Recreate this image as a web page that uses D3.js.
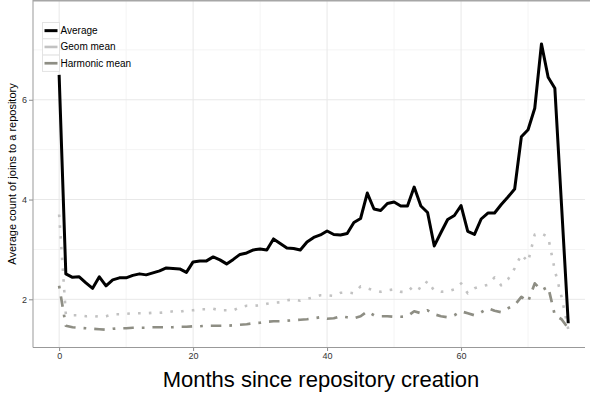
<!DOCTYPE html>
<html>
<head>
<meta charset="utf-8">
<script src="https://cdn.jsdelivr.net/npm/d3@7/dist/d3.min.js"></script>
<style>
  html, body { margin: 0; padding: 0; background: #fff; }
  svg { display: block; }
</style>
</head>
<body>
<svg id="chart" width="590" height="398"></svg>
<script>
// Monthly join counts per repository, by repository age in months
const months = d3.range(0, 77);

const average = [
  6.50, 2.51, 2.44, 2.45, 2.33, 2.22, 2.45, 2.27, 2.39, 2.43,
  2.43, 2.48, 2.51, 2.49, 2.53, 2.57, 2.63, 2.62, 2.61, 2.54,
  2.75, 2.77, 2.77, 2.85, 2.79, 2.71, 2.80, 2.90, 2.93, 2.99,
  3.01, 2.99, 3.21, 3.12, 3.03, 3.02, 2.99, 3.15, 3.24, 3.29,
  3.37, 3.30, 3.29, 3.32, 3.54, 3.62, 4.13, 3.81, 3.78, 3.92,
  3.95, 3.87, 3.87, 4.25, 3.87, 3.74, 3.07, 3.34, 3.60, 3.68,
  3.88, 3.36, 3.30, 3.61, 3.73, 3.73, 3.90, 4.05, 4.21, 5.26,
  5.40, 5.83, 7.12, 6.45, 6.23, 3.88, 1.52
];

const geomMean = [
  3.70, 1.70, 1.68, 1.68, 1.66, 1.67, 1.65, 1.66, 1.70, 1.70,
  1.71, 1.72, 1.72, 1.72, 1.73, 1.73, 1.74, 1.76, 1.75, 1.78,
  1.78, 1.80, 1.80, 1.81, 1.78, 1.78, 1.78, 1.84, 1.87, 1.87,
  1.88, 1.91, 1.93, 1.94, 1.98, 2.00, 1.97, 2.01, 2.04, 2.08,
  2.08, 2.07, 2.13, 2.14, 2.12, 2.26, 2.22, 2.18, 2.15, 2.18,
  2.20, 2.15, 2.15, 2.28, 2.20, 2.37, 2.17, 2.15, 2.16, 2.20,
  2.32, 2.12, 2.22, 2.26, 2.29, 2.44, 2.28, 2.40, 2.62, 2.90,
  2.75, 3.30, 3.32, 3.25, 2.58, 2.05, 1.40
];

const harmonicMean = [
  2.27, 1.47, 1.44, 1.43, 1.42, 1.41, 1.40, 1.39, 1.41, 1.42,
  1.42, 1.43, 1.43, 1.43, 1.44, 1.44, 1.44, 1.44, 1.45, 1.45,
  1.46, 1.46, 1.47, 1.47, 1.47, 1.47, 1.48, 1.49, 1.50, 1.52,
  1.53, 1.55, 1.56, 1.56, 1.57, 1.58, 1.59, 1.60, 1.62, 1.64,
  1.61, 1.62, 1.66, 1.64, 1.62, 1.66, 1.76, 1.68, 1.66, 1.66,
  1.65, 1.65, 1.66, 1.76, 1.72, 1.78, 1.70, 1.66, 1.64, 1.68,
  1.76, 1.72, 1.68, 1.74, 1.82, 1.77, 1.74, 1.82, 1.88, 2.05,
  1.95, 2.32, 2.18, 2.25, 1.68, 1.60, 1.42
];

const seriesNames = ["Average", "Geom mean", "Harmonic mean"];
const xTicks = [0, 20, 40, 60];
const xMinor = [10, 30, 50, 70];
const yTicks = [2, 4, 6];
const yMinor = [3, 5, 7];

const svg = d3.select("#chart");
const panel = { left: 33, right: 585, top: 1, bottom: 347 };

const x = d3.scaleLinear().domain([-3.9, 78.5]).range([panel.left, panel.right]);
const y = d3.scaleLinear().domain([1.044, 7.98]).range([panel.bottom, panel.top]);

const styles = {
  "Average":       { color: "#000000", width: 3,   dash: null },
  "Geom mean":     { color: "#c2c2c2", width: 2.6, dash: "2.6,8.2" },
  "Harmonic mean": { color: "#8e8e84", width: 2.7, dash: "2.7,8,10.5,8" }
};

// grid
const grid = svg.append("g");
xMinor.forEach(v => grid.append("line")
  .attr("x1", x(v)).attr("x2", x(v)).attr("y1", panel.top).attr("y2", panel.bottom)
  .attr("stroke", "#f4f4f4").attr("stroke-width", 1));
yMinor.forEach(v => grid.append("line")
  .attr("x1", panel.left).attr("x2", panel.right).attr("y1", y(v)).attr("y2", y(v))
  .attr("stroke", "#f4f4f4").attr("stroke-width", 1));
xTicks.forEach(v => grid.append("line")
  .attr("x1", x(v)).attr("x2", x(v)).attr("y1", panel.top).attr("y2", panel.bottom)
  .attr("stroke", "#e8e8e8").attr("stroke-width", 1));
yTicks.forEach(v => grid.append("line")
  .attr("x1", panel.left).attr("x2", panel.right).attr("y1", y(v)).attr("y2", y(v))
  .attr("stroke", "#e8e8e8").attr("stroke-width", 1));

// series lines
const series = [
  { name: "Average", values: average },
  { name: "Geom mean", values: geomMean },
  { name: "Harmonic mean", values: harmonicMean }
];
const line = d3.line().x(d => x(d[0])).y(d => y(d[1]));

series.slice().reverse().forEach(s => {
  const st = styles[s.name];
  svg.append("path")
    .datum(months.map((m, i) => [m, s.values[i]]))
    .attr("d", line)
    .attr("fill", "none")
    .attr("stroke", st.color)
    .attr("stroke-width", st.width)
    .attr("stroke-linejoin", "round")
    .attr("stroke-dasharray", st.dash);
});

// axes
const xAxis = d3.axisBottom(x).tickValues(xTicks).tickSize(4).tickPadding(2).tickFormat(d3.format("d"));
const yAxis = d3.axisLeft(y).tickValues(yTicks).tickSize(4).tickPadding(2).tickFormat(d3.format("d"));

const gx = svg.append("g").attr("transform", `translate(0,${panel.bottom})`).call(xAxis);
const gy = svg.append("g").attr("transform", `translate(${panel.left},0)`).call(yAxis);
[gx, gy].forEach(g => {
  g.select(".domain").remove();
  g.selectAll(".tick line").attr("stroke", "#8a8a8a");
  g.selectAll(".tick text").attr("fill", "#333").style("font", "9px 'Liberation Sans', Arial, sans-serif");
});

// axis lines and top frame
svg.append("line").attr("x1", panel.left).attr("x2", panel.left).attr("y1", 0).attr("y2", panel.bottom + 0.5)
  .attr("stroke", "#999").attr("stroke-width", 1);
svg.append("line").attr("x1", panel.left).attr("x2", panel.right).attr("y1", panel.bottom + 0.5).attr("y2", panel.bottom + 0.5)
  .attr("stroke", "#999").attr("stroke-width", 1);
svg.append("line").attr("x1", panel.left).attr("x2", 590).attr("y1", 0.75).attr("y2", 0.75)
  .attr("stroke", "#a6a6a6").attr("stroke-width", 1.5);

// axis titles
svg.append("text")
  .attr("x", 321).attr("y", 387)
  .attr("text-anchor", "middle")
  .style("font", "22px 'Liberation Sans', Arial, sans-serif")
  .attr("fill", "#000")
  .text("Months since repository creation");

svg.append("text")
  .attr("transform", `translate(16,${(panel.top + panel.bottom) / 2}) rotate(-90)`)
  .attr("text-anchor", "middle")
  .style("font", "11px 'Liberation Sans', Arial, sans-serif")
  .attr("fill", "#000")
  .text("Average count of joins to a repository");

// legend
const legend = svg.append("g").attr("transform", "translate(42,22)");
const keyH = 16.3, keyW = 17;
seriesNames.forEach((name, i) => {
  const st = styles[name];
  const row = legend.append("g").attr("transform", `translate(0,${i * keyH})`);
  row.append("rect").attr("x", 0.5).attr("y", 0.5).attr("width", keyW).attr("height", keyH)
    .attr("fill", "#fff").attr("stroke", "#e3e3e3").attr("stroke-width", 1);
  row.append("line").attr("x1", 2.5).attr("x2", keyW - 1.5).attr("y1", keyH / 2 + 0.5).attr("y2", keyH / 2 + 0.5)
    .attr("stroke", st.color).attr("stroke-width", st.width);
  row.append("text").attr("x", keyW + 1.5).attr("y", keyH / 2 + 4)
    .style("font", "10px 'Liberation Sans', Arial, sans-serif")
    .attr("fill", "#000")
    .text(name);
});
</script>
</body>
</html>
